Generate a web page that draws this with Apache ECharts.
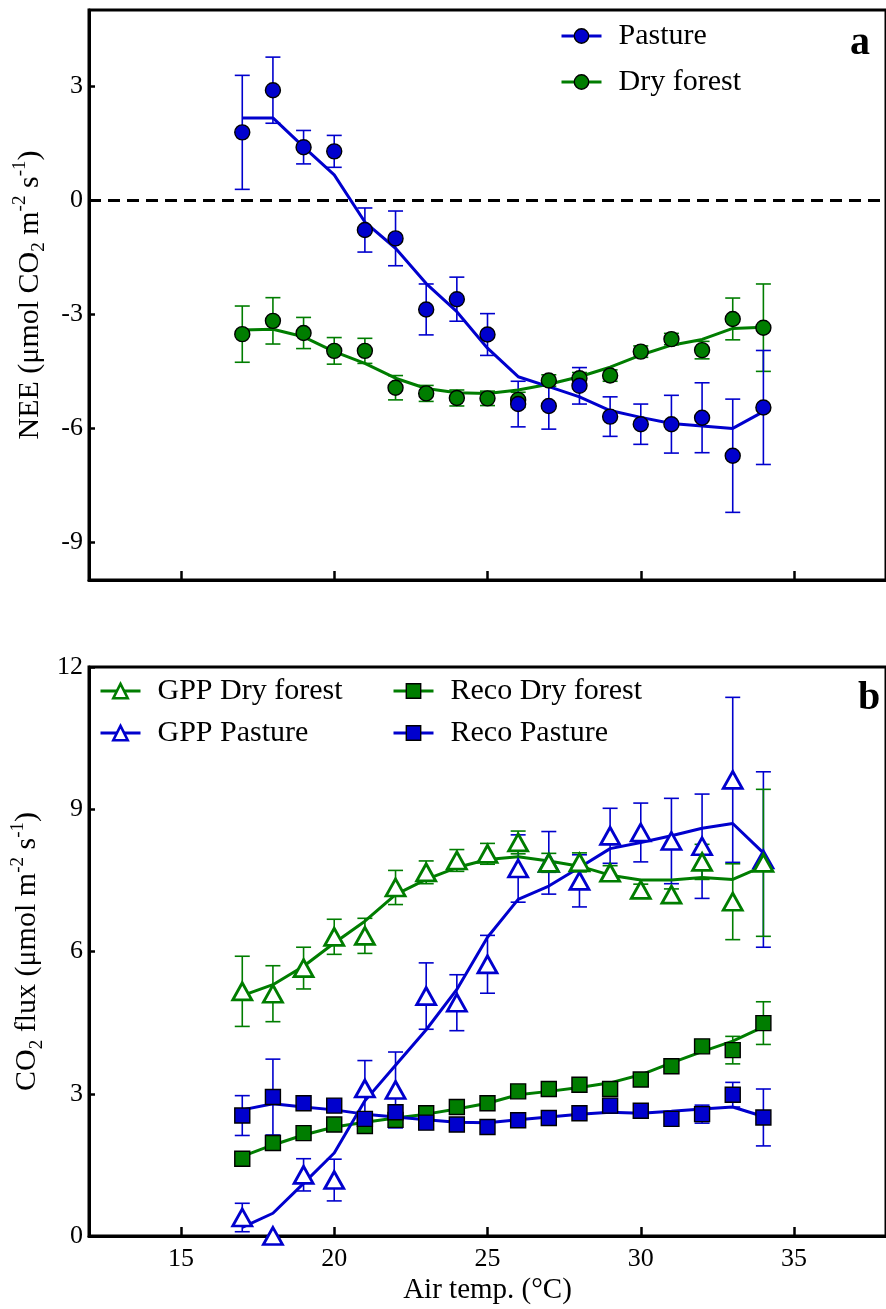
<!DOCTYPE html>
<html>
<head>
<meta charset="utf-8">
<script src="https://cdn.jsdelivr.net/npm/echarts@6/dist/echarts.min.js"></script>
<style>
  html, body { margin: 0; padding: 0; background: #fff; }
  #chart { width: 886px; height: 1309px; }
</style>
</head>
<body>
<div id="chart"></div>
<script>
// Air temperature classes (°C)
const temps = [17, 18, 19, 20, 21, 22, 23, 24, 25, 26, 27, 28, 29, 30, 31, 32, 33, 34];

// Panel a: net ecosystem exchange (µmol CO2 m-2 s-1)
const neePasture    = [1.78, 2.89, 1.39, 1.28, -0.79, -1.01, -2.88, -2.61, -3.54, -5.37, -5.42, -4.89, -5.70, -5.90, -5.90, -5.73, -6.73, -5.46];
const neePastureErr = [1.50, 0.87, 0.44, 0.42, 0.58, 0.72, 0.67, 0.58, 0.55, 0.60, 0.61, 0.48, 0.52, 0.53, 0.76, 0.92, 1.49, 1.50];
const neePastureFit = [2.16, 2.16, 1.40, 0.66, -0.58, -1.27, -2.20, -2.94, -3.90, -4.65, -4.91, -5.18, -5.54, -5.72, -5.88, -5.95, -6.01, -5.57];

const neeForest    = [-3.53, -3.18, -3.50, -3.97, -3.97, -4.94, -5.09, -5.21, -5.22, -5.26, -4.75, -4.69, -4.62, -3.99, -3.66, -3.95, -3.13, -3.36];
const neeForestErr = [0.74, 0.61, 0.41, 0.35, 0.33, 0.32, 0.21, 0.21, 0.19, 0.20, 0.15, 0.15, 0.15, 0.15, 0.15, 0.23, 0.55, 1.15];
const neeForestFit = [-3.42, -3.40, -3.60, -3.99, -4.30, -4.69, -4.96, -5.07, -5.09, -5.00, -4.85, -4.65, -4.40, -4.08, -3.82, -3.67, -3.38, -3.35];

// Panel b: gross primary production and ecosystem respiration
const gppForest    = [5.16, 5.11, 5.65, 6.31, 6.33, 7.35, 7.67, 7.92, 8.06, 8.30, 7.87, 7.88, 7.66, 7.30, 7.20, 7.89, 7.05, 7.87];
const gppForestErr = [0.74, 0.59, 0.44, 0.37, 0.37, 0.36, 0.24, 0.23, 0.22, 0.24, 0.20, 0.20, 0.15, 0.12, 0.12, 0.37, 0.80, 1.55];
const gppForestFit = [5.07, 5.30, 5.69, 6.18, 6.64, 7.20, 7.52, 7.77, 7.94, 8.00, 7.91, 7.80, 7.61, 7.51, 7.51, 7.56, 7.52, 7.80];

const gppPasture    = [0.39, 0.00, 1.29, 1.18, 3.11, 3.08, 5.06, 4.92, 5.73, 7.75, 7.87, 7.49, 8.44, 8.51, 8.33, 8.22, 9.62, 7.94];
const gppPastureErr = [0.30, 0.00, 0.34, 0.44, 0.59, 0.80, 0.70, 0.59, 0.61, 0.71, 0.66, 0.55, 0.58, 0.62, 0.90, 1.10, 1.74, 1.85];
const gppPastureFit = [0.18, 0.48, 1.11, 1.75, 2.85, 3.60, 4.35, 5.20, 6.30, 7.10, 7.38, 7.77, 8.17, 8.30, 8.44, 8.60, 8.70, 8.08];

const recoForest    = [1.63, 1.96, 2.17, 2.35, 2.32, 2.45, 2.59, 2.72, 2.80, 3.05, 3.10, 3.19, 3.10, 3.30, 3.58, 4.00, 3.92, 4.49];
const recoForestErr = [0.10, 0.10, 0.10, 0.10, 0.10, 0.10, 0.10, 0.10, 0.10, 0.10, 0.10, 0.10, 0.10, 0.10, 0.10, 0.10, 0.29, 0.45];
const recoForestFit = [1.68, 1.92, 2.13, 2.30, 2.40, 2.49, 2.57, 2.68, 2.80, 2.98, 3.05, 3.13, 3.23, 3.40, 3.65, 3.89, 4.11, 4.41];

const recoPasture    = [2.54, 2.93, 2.80, 2.75, 2.47, 2.61, 2.39, 2.35, 2.30, 2.44, 2.49, 2.59, 2.75, 2.64, 2.47, 2.57, 2.98, 2.50];
const recoPastureErr = [0.42, 0.80, 0.12, 0.10, 0.10, 0.10, 0.10, 0.10, 0.10, 0.10, 0.10, 0.10, 0.10, 0.10, 0.10, 0.19, 0.26, 0.60];
const recoPastureFit = [2.66, 2.79, 2.72, 2.66, 2.57, 2.51, 2.45, 2.40, 2.39, 2.45, 2.51, 2.57, 2.61, 2.59, 2.63, 2.68, 2.72, 2.52];

// Axis tick positions
const xTicks = [15, 20, 25, 30, 35];
const yTicksA = [-9, -6, -3, 0, 3];
const yTicksB = [0, 3, 6, 9, 12];

const BLUE = '#0000cd';
const GREEN = '#007d00';
const FONT = '"Liberation Serif", "Times New Roman", serif';

const pairs = (ys) => temps.map((t, i) => [t, ys[i]]);
const triples = (ys, es) => temps.map((t, i) => [t, ys[i], es[i]]);

function renderErrorBar(params, api) {
  const x = api.value(0), v = api.value(1), e = api.value(2);
  if (!e) return null;
  const top = api.coord([x, v + e]);
  const bot = api.coord([x, v - e]);
  const hw = 7.5;
  const style = { stroke: api.visual('color'), lineWidth: 1.6 };
  return {
    type: 'group',
    children: [
      { type: 'line', shape: { x1: top[0], y1: top[1], x2: bot[0], y2: bot[1] }, style },
      { type: 'line', shape: { x1: top[0] - hw, y1: top[1], x2: top[0] + hw, y2: top[1] }, style },
      { type: 'line', shape: { x1: bot[0] - hw, y1: bot[1], x2: bot[0] + hw, y2: bot[1] }, style }
    ]
  };
}

// One data set = fitted line (carries the legend entry), error bars, markers
function dataSet(name, grid, vals, errs, fit, color, marker, zPts, extra) {
  const hollow = marker.hollow;
  const itemStyle = hollow
    ? { color: '#fff', borderColor: color, borderWidth: 2.8, opacity: 1 }
    : { color: color, borderColor: '#000', borderWidth: 1.4, opacity: 1 };
  const line = Object.assign({
    name: name, type: 'line', xAxisIndex: grid, yAxisIndex: grid,
    data: pairs(fit), showSymbol: false, symbol: marker.symbol,
    itemStyle: itemStyle,
    lineStyle: { color: color, width: 3 },
    z: 3, silent: true, animation: false
  }, extra || {});
  const err = {
    name: name, type: 'custom', xAxisIndex: grid, yAxisIndex: grid,
    data: triples(vals, errs), encode: { x: 0, y: 1 },
    renderItem: renderErrorBar, itemStyle: { color: color },
    z: 2, silent: true, animation: false, clip: false
  };
  const pts = {
    name: name, type: 'scatter', xAxisIndex: grid, yAxisIndex: grid,
    data: pairs(vals), symbol: marker.symbol, symbolSize: marker.size,
    itemStyle: itemStyle, z: zPts, silent: true, animation: false
  };
  return [line, err, pts];
}

const circle = { symbol: 'circle', size: 15 };
const square = { symbol: 'rect', size: 15 };
const tri = { symbol: 'triangle', size: [19, 17], hollow: true };

// Dashed reference line at NEE = 0
const zeroLine = {
  markLine: {
    silent: true, symbol: ['none', 'none'], label: { show: false }, animation: false,
    lineStyle: { color: '#000', type: [12, 7], width: 3 },
    emphasis: { disabled: true },
    data: [{ yAxis: 0 }]
  }
};

const series = [].concat(
  dataSet('Dry forest', 0, neeForest, neeForestErr, neeForestFit, GREEN, circle, 4, zeroLine),
  dataSet('Pasture', 0, neePasture, neePastureErr, neePastureFit, BLUE, circle, 5),
  dataSet('Reco Dry forest', 1, recoForest, recoForestErr, recoForestFit, GREEN, square, 4),
  dataSet('Reco Pasture', 1, recoPasture, recoPastureErr, recoPastureFit, BLUE, square, 5),
  dataSet('GPP Pasture', 1, gppPasture, gppPastureErr, gppPastureFit, BLUE, tri, 6),
  dataSet('GPP Dry forest', 1, gppForest, gppForestErr, gppForestFit, GREEN, tri, 7)
);

function legendItem(name, color, hollow) {
  return {
    name: name,
    itemStyle: hollow
      ? { color: '#fff', borderColor: color, borderWidth: 2.6 }
      : { color: color, borderColor: '#000', borderWidth: 1.4 },
    lineStyle: { color: color, width: 3 }
  };
}

const legendBase = {
  orient: 'vertical', itemWidth: 40, itemHeight: 18, selectedMode: false,
  textStyle: { fontFamily: FONT, fontSize: 30, color: '#000', padding: [0, 0, 0, 12] },
  padding: 0
};

const tickLabel = { fontFamily: FONT, fontSize: 26, color: '#000' };

const nameRich = {
  t:  { fontFamily: FONT, fontSize: 30, color: '#000', lineHeight: 38 },
  sb: { fontFamily: FONT, fontSize: 19, color: '#000', lineHeight: 19, verticalAlign: 'bottom' },
  sp: { fontFamily: FONT, fontSize: 19, color: '#000', lineHeight: 24, verticalAlign: 'top' }
};

const xAxisBase = (grid, labels) => ({
  type: 'value', gridIndex: grid, min: 12, max: 38,
  axisLine: { show: true, onZero: false, lineStyle: { color: '#000', width: 3 } },
  axisTick: { show: true, inside: true, length: 9, customValues: xTicks, lineStyle: { color: '#000', width: 2.5 } },
  axisLabel: { show: labels, customValues: xTicks, margin: 10, ...tickLabel },
  splitLine: { show: false }
});

const yAxisBase = (grid, min, max, ticks) => ({
  type: 'value', gridIndex: grid, min: min, max: max,
  axisLine: { show: true, onZero: false, lineStyle: { color: '#000', width: 3 } },
  axisTick: { show: true, inside: true, length: 6, customValues: ticks, lineStyle: { color: '#000', width: 2.5 } },
  axisLabel: { show: true, customValues: ticks, margin: 6, ...tickLabel },
  splitLine: { show: false },
  nameLocation: 'middle', nameRotate: 90, nameGap: 40,
  nameTextStyle: { fontFamily: FONT, fontSize: 30, color: '#000', rich: nameRich }
});

const option = {
  backgroundColor: '#fff',
  animation: false,
  grid: [
    { left: 89, top: 10, width: 805, height: 570, show: true, borderColor: '#000', borderWidth: 3 },
    { left: 89, top: 667, width: 805, height: 569, show: true, borderColor: '#000', borderWidth: 3 }
  ],
  xAxis: [
    xAxisBase(0, false),
    Object.assign(xAxisBase(1, true), {
      name: 'Air temp. (°C)', nameLocation: 'middle', nameGap: 40,
      nameTextStyle: { fontFamily: FONT, fontSize: 29, color: '#000' }
    })
  ],
  yAxis: [
    Object.assign(yAxisBase(0, -10, 5, yTicksA), {
      name: '{t|NEE (μmol CO}{sb|2}{t| m}{sp|-2}{t| s}{sp|-1}{t|)}'
    }),
    Object.assign(yAxisBase(1, 0, 12, yTicksB), {
      interval: 3,
      name: '{t|CO}{sb|2}{t| flux (μmol m}{sp|-2}{t| s}{sp|-1}{t|)}'
    })
  ],
  legend: [
    Object.assign({}, legendBase, {
      left: 560, top: 21, itemGap: 16,
      data: [legendItem('Pasture', BLUE, false), legendItem('Dry forest', GREEN, false)]
    }),
    Object.assign({}, legendBase, {
      left: 99, top: 676, itemGap: 12,
      data: [legendItem('GPP Dry forest', GREEN, true), legendItem('GPP Pasture', BLUE, true)]
    }),
    Object.assign({}, legendBase, {
      left: 392, top: 676, itemGap: 12,
      data: [legendItem('Reco Dry forest', GREEN, false), legendItem('Reco Pasture', BLUE, false)]
    })
  ],
  graphic: [
    { type: 'text', x: 850, y: 44, style: { text: 'a', font: 'bold 40px ' + FONT, fill: '#000', verticalAlign: 'middle' } },
    { type: 'text', x: 858, y: 699, style: { text: 'b', font: 'bold 40px ' + FONT, fill: '#000', verticalAlign: 'middle' } }
  ],
  series: series
};

const chart = echarts.init(document.getElementById('chart'), null, { renderer: 'canvas' });
chart.setOption(option);
</script>
</body>
</html>
